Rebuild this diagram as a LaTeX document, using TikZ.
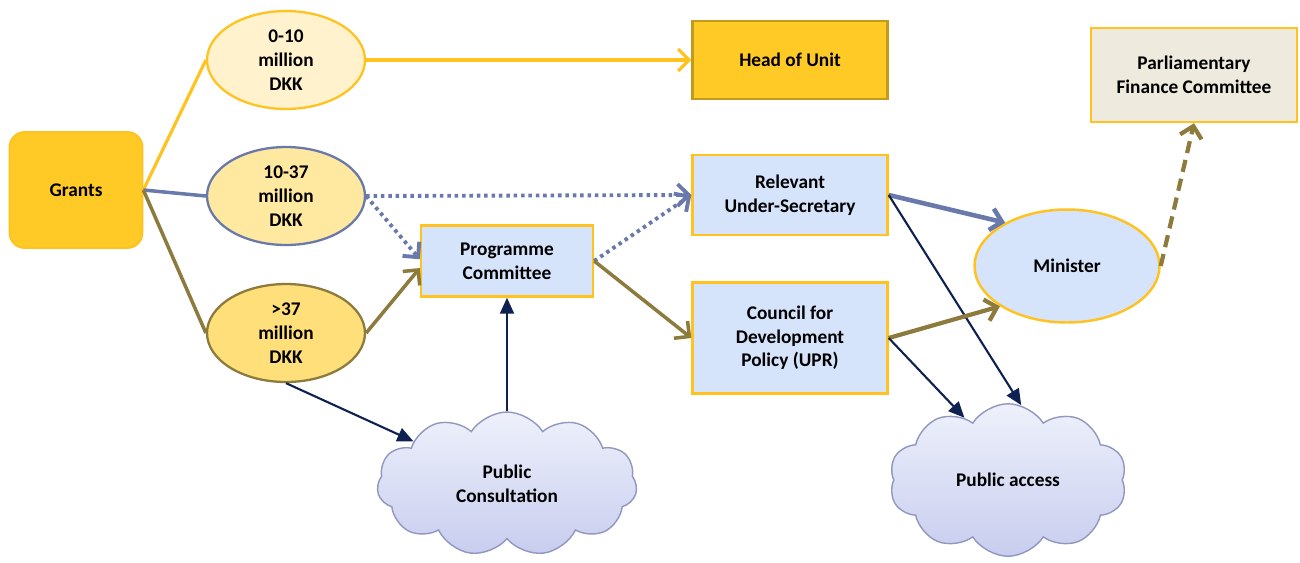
\documentclass[tikz,border=0pt]{standalone}
\usepackage{fontspec}
\setmainfont{Carlito}
\usetikzlibrary{arrows.meta}
\usetikzlibrary{shapes.geometric, shapes.symbols}

\definecolor{gold}{HTML}{FFC926}
\definecolor{goldline}{HTML}{FFC21F}
\definecolor{darkgold}{HTML}{C29A1C}
\definecolor{cream}{HTML}{FFF2CC}
\definecolor{sand}{HTML}{FFE8A0}
\definecolor{butter}{HTML}{FFDF7A}
\definecolor{paleblue}{HTML}{D5E3FB}
\definecolor{beige}{HTML}{EEEADD}
\definecolor{olive}{HTML}{8C7B3C}
\definecolor{slate}{HTML}{6A79AC}
\definecolor{navy}{HTML}{0E2150}
\definecolor{cloudtop}{HTML}{EEF1FB}
\definecolor{cloudbot}{HTML}{C8CDEF}
\definecolor{cloudline}{HTML}{9197BF}

\tikzset{
  lbl/.style={font=\bfseries\fontsize{11pt}{13.5pt}\selectfont, text=black, align=center},
  box/.style={lbl, rectangle, draw=goldline, line width=1.4pt, fill=paleblue, minimum width=3.9cm},
  band/.style={lbl, ellipse, line width=1.3pt, inner sep=0pt, minimum width=3.16cm, minimum height=1.96cm},
  puff/.style={lbl, cloud, cloud puffs=11, cloud puff arc=115, cloud ignores aspect, draw=cloudline,
    line width=0.8pt, top color=cloudtop, bottom color=cloudbot},
  openhead/.style={-{Straight Barb[length=2.2mm, width=4.4mm]}},
  fillhead/.style={-{Triangle[length=3.2mm, width=2.8mm]}},
  orangeline/.style={draw=goldline, line width=1.8pt},
  slateline/.style={draw=slate, line width=2pt},
  oliveline/.style={draw=olive, line width=2pt},
  navyline/.style={draw=navy, line width=1.2pt, fillhead},
  dotline/.style={draw=slate, line width=2.2pt, dash pattern=on 2pt off 2.2pt}
}

\begin{document}
\begin{tikzpicture}[x=0.02cm, y=-0.02cm]
  \useasboundingbox (0,0) rectangle (1300,562);

  % sources and bands
  \node[lbl, rectangle, rounded corners=0.3cm, fill=gold, draw=goldline, line width=1pt,
    minimum width=2.66cm, minimum height=2.32cm] (grants) at (76,190) {Grants};
  \node[band, fill=cream, draw=goldline] (low) at (286,60) {0-10\\million\\DKK};
  \node[band, fill=sand, draw=slate] (mid) at (286,196) {10-37\\million\\DKK};
  \node[band, fill=butter, draw=olive] (high) at (286,333) {>37\\million\\DKK};

  % decision bodies
  \node[box, fill=gold, draw=darkgold, minimum height=1.56cm] (head) at (790,60) {Head of Unit};
  \node[box, fill=beige, minimum width=4.12cm, minimum height=1.88cm] (parl) at (1194,75)
    {Parliamentary\\Finance Committee};
  \node[box, minimum height=1.6cm] (secretary) at (790,195) {Relevant\\Under-Secretary};
  \node[box, minimum width=3.44cm, minimum height=1.42cm] (programme) at (507,261)
    {Programme\\Committee};
  \node[box, minimum height=2.22cm] (council) at (790,338) {Council for\\Development\\Policy (UPR)};
  \node[lbl, ellipse, fill=paleblue, draw=goldline, line width=1.4pt,
    minimum width=3.7cm, minimum height=2.26cm] (minister) at (1067,266) {Minister};

  % clouds
  \node[puff, minimum width=5.2cm, minimum height=2.88cm] (consult) at (507,484)
    {Public\\Consultation};
  \node[puff, cloud puffs=10, minimum width=4.75cm, minimum height=3.05cm] (access) at (1008,480)
    {Public access};

  % connectors
  \draw[orangeline] (grants.east) -- (low.west);
  \draw[slateline] (grants.east) -- (mid.west);
  \draw[oliveline] (grants.east) -- (high.west);

  \draw[orangeline, openhead] (low.east) -- (head.west);
  \draw[dotline, openhead] (mid.east) -- (secretary.west);
  \draw[dotline, openhead] (mid.east) -- ([yshift=1pt]programme.west);
  \draw[oliveline, openhead] (high.east) -- ([yshift=-4pt]programme.west);
  \draw[dotline, openhead] (programme.east) -- (secretary.west);
  \draw[oliveline, openhead] (programme.east) -- (council.west);

  \draw[navyline] (high.south) -- (consult);
  \draw[navyline] (consult.north) -- (programme.south);

  \draw[slateline, line width=2.6pt, openhead] (secretary.east) -- (minister.145);
  \draw[navyline] (secretary.east) -- (access.80);
  \draw[oliveline, line width=2.4pt, openhead] (council.east) -- (minister.211);
  \draw[navyline] (council.east) -- (access.125);
  \draw[oliveline, line width=2.4pt, dash pattern=on 7pt off 4pt, openhead] (minister.east) -- (parl.south);
\end{tikzpicture}
\end{document}
